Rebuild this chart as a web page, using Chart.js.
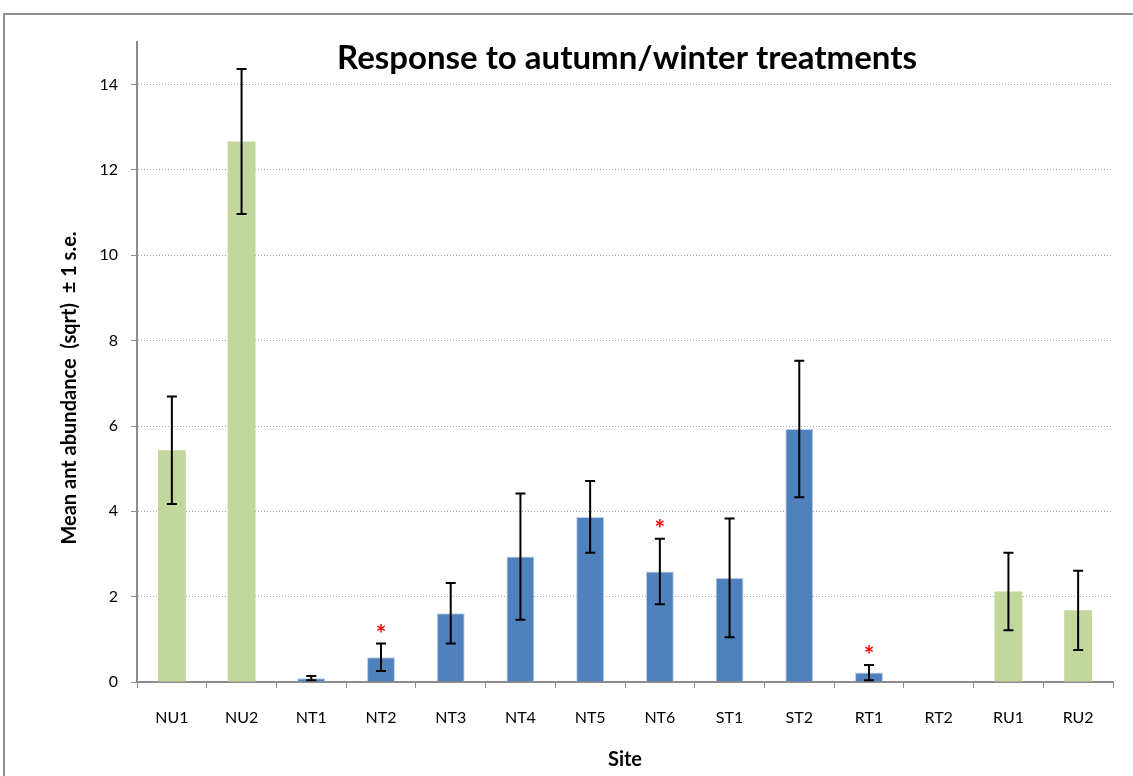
<!DOCTYPE html>
<html>
<head>
<meta charset="utf-8">
<script src="https://cdn.jsdelivr.net/npm/chart.js@4.4.1/dist/chart.umd.min.js"></script>
<style>
  html, body { margin: 0; padding: 0; background: #fff; overflow: hidden; }
  #frame { position: absolute; left: 3px; top: 13px; width: 1200px; height: 900px; border: 2px solid #8f8f8f; }
  #chart { position: absolute; left: 0; top: 0; }
</style>
</head>
<body>
<div id="frame"></div>
<canvas id="chart" width="1133" height="776"></canvas>
<script>
// site order as on the x axis
const sites = ['NU1', 'NU2', 'NT1', 'NT2', 'NT3', 'NT4', 'NT5', 'NT6', 'ST1', 'ST2', 'RT1', 'RT2', 'RU1', 'RU2'];
// mean ant abundance (sqrt) and its standard error
const means = [5.43, 12.67, 0.09, 0.58, 1.61, 2.94, 3.87, 2.59, 2.44, 5.93, 0.22, 0, 2.12, 1.68];
const errors = [1.26, 1.70, 0.05, 0.32, 0.71, 1.48, 0.84, 0.77, 1.39, 1.60, 0.18, 0, 0.91, 0.93];
// U = untreated (green), T = treated (blue)
const groups = ['U', 'U', 'T', 'T', 'T', 'T', 'T', 'T', 'T', 'T', 'T', 'T', 'U', 'U'];
// sites marked with a red asterisk
const significant = [false, false, false, true, false, false, false, true, false, false, true, false, false, false];
const yTicks = [0, 2, 4, 6, 8, 10, 12, 14];

const GREEN = '#c3d69b';
const BLUE = '#4f81bd';
const AXIS = '#8c8c8c';
const FONT = 'Lato, "Open Sans", sans-serif';

// error bars, asterisks and titles
const extras = {
  id: 'extras',
  afterDatasetsDraw(chart) {
    const ctx = chart.ctx;
    const meta = chart.getDatasetMeta(0);
    const y = chart.scales.y;
    ctx.save();
    meta.data.forEach((bar, i) => {
      if (!errors[i]) return;
      const x = bar.x;
      const top = y.getPixelForValue(means[i] + errors[i]);
      const bot = y.getPixelForValue(Math.max(means[i] - errors[i], 0));
      ctx.strokeStyle = '#000';
      ctx.lineWidth = 2;
      ctx.beginPath();
      ctx.moveTo(x, top); ctx.lineTo(x, bot);
      ctx.moveTo(x - 5, top); ctx.lineTo(x + 5, top);
      ctx.moveTo(x - 5, bot); ctx.lineTo(x + 5, bot);
      ctx.stroke();
      if (significant[i]) {
        ctx.fillStyle = '#ff0000';
        ctx.font = 'bold 25px ' + FONT;
        ctx.textAlign = 'center';
        ctx.textBaseline = 'middle';
        ctx.fillText('*', x, top - 9);
      }
    });
    ctx.restore();
  },
  afterDraw(chart) {
    const ctx = chart.ctx;
    ctx.save();
    ctx.fillStyle = '#000';
    ctx.textAlign = 'center';
    ctx.textBaseline = 'middle';
    ctx.font = 'bold 33px ' + FONT;
    ctx.fillText('Response to autumn/winter treatments', 627, 58);
    ctx.translate(70, 388);
    ctx.rotate(-Math.PI / 2);
    ctx.font = 'bold 20px ' + FONT;
    ctx.fillText('Mean ant abundance  (sqrt)  \u00b1 1 s.e.', 0, 0);
    ctx.restore();
  }
};

new Chart(document.getElementById('chart'), {
  type: 'bar',
  data: {
    labels: sites,
    datasets: [{
      data: means,
      backgroundColor: groups.map(g => g === 'U' ? GREEN : BLUE),
      borderColor: groups.map(g => g === 'U' ? GREEN : '#b9cde5'),
      borderWidth: groups.map(g => g === 'U' ? 0 : 1),
      barPercentage: 0.4,
      categoryPercentage: 1
    }]
  },
  options: {
    responsive: false,
    animation: false,
    layout: { padding: { left: 0, top: 42, right: 20, bottom: 0 } },
    plugins: { legend: { display: false }, tooltip: { enabled: false } },
    scales: {
      x: {
        afterFit(scale) { scale.height = 94; },
        grid: { drawOnChartArea: false, drawTicks: true, tickLength: 6, color: AXIS },
        border: { color: AXIS, width: 2 },
        ticks: { color: '#000', padding: 20, font: { family: FONT, size: 16 } },
        title: {
          display: true, text: 'Site', color: '#000',
          font: { family: FONT, size: 20, weight: 'bold' },
          padding: { top: 10 }
        }
      },
      y: {
        min: 0,
        max: 15,
        afterFit(scale) { scale.width = 137; },
        afterBuildTicks(scale) { scale.ticks = yTicks.map(v => ({ value: v })); },
        grid: {
          color: ctx => ctx.tick && ctx.tick.value === 0 ? 'rgba(0,0,0,0)' : '#a6a6a6',
          tickColor: AXIS,
          tickLength: 6
        },
        border: { color: AXIS, width: 2, dash: [1, 2] },
        ticks: { color: '#000', padding: 13, font: { family: FONT, size: 16 } }
      }
    }
  },
  plugins: [extras]
});
</script>
</body>
</html>
